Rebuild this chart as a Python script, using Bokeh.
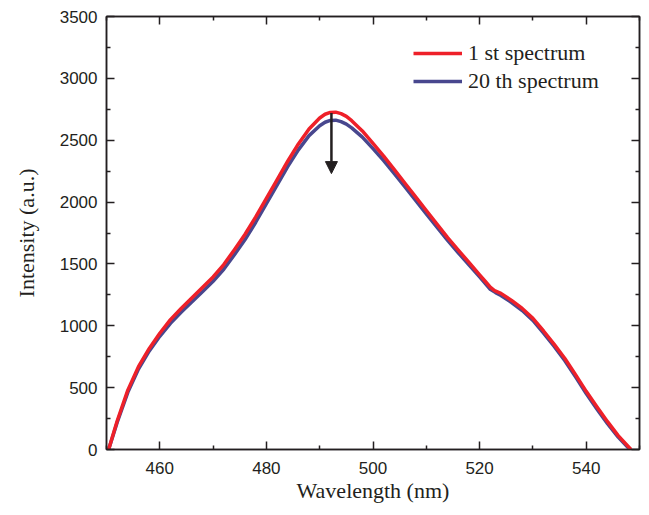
from bokeh.plotting import figure
from bokeh.models import (FixedTicker, LinearAxis, Range1d, Legend, LegendItem,
                          Arrow, NormalHead)
from bokeh.embed import file_html
from bokeh.resources import INLINE

# ---- data ----
wl_red = [450.4, 452, 454, 456, 458, 460, 462, 464, 466, 468, 470, 472, 474, 476, 478,
          480, 482, 484, 486, 488, 490, 491, 492, 493, 494, 495, 496, 498, 500, 502,
          504, 506, 508, 510, 512, 514, 516, 518, 520, 521, 522, 522.8, 524, 526, 528,
          530, 532, 534, 536, 538, 540, 542, 544, 546, 548.4]
int_red = [0, 230, 480, 670, 815, 940, 1050, 1140, 1225, 1310, 1395, 1495, 1615, 1740, 1880,
           2030, 2180, 2330, 2470, 2590, 2680, 2710, 2725, 2727, 2715, 2693, 2658, 2575, 2475, 2372,
           2262, 2152, 2042, 1932, 1822, 1712, 1612, 1512, 1412, 1362, 1312, 1285, 1262, 1205, 1140,
           1060, 958, 850, 735, 605, 470, 345, 225, 112, 0]

wl_blue = [450.4, 452, 454, 456, 458, 460, 462, 464, 466, 468, 470, 472, 474, 476, 478,
           480, 482, 484, 486, 488, 490, 491, 492, 493, 494, 495, 496, 498, 500, 502,
           504, 506, 508, 510, 512, 514, 516, 518, 520, 521, 522, 523, 524, 526, 528,
           530, 532, 534, 536, 538, 540, 542, 544, 546, 548.2]
int_blue = [0, 218, 462, 650, 795, 915, 1020, 1110, 1192, 1275, 1360, 1457, 1575, 1697, 1837,
            1987, 2137, 2287, 2422, 2537, 2617, 2645, 2660, 2662, 2650, 2630, 2600, 2525, 2432, 2335,
            2230, 2122, 2013, 1905, 1797, 1690, 1590, 1492, 1395, 1345, 1295, 1268, 1245, 1188, 1123,
            1043, 941, 833, 718, 588, 453, 328, 208, 100, 0]

series_labels = ["1 st spectrum", "20 th spectrum"]
x_major = [460, 480, 500, 520, 540]
x_minor = [450, 470, 490, 510, 530, 550]
y_major = [0, 500, 1000, 1500, 2000, 2500, 3000, 3500]
y_minor = [250, 750, 1250, 1750, 2250, 2750, 3250]

arrow_x = 492.2
arrow_y_start = 2720
arrow_y_end = 2230

RED = "#EE2029"
BLUE = "#48478E"
INK = "#231F20"

p = figure(width=648, height=514, output_backend="svg", toolbar_location=None,
           x_range=Range1d(450, 550), y_range=Range1d(0, 3500),
           min_border_left=106, min_border_right=9, min_border_top=16, min_border_bottom=65)
p.grid.visible = False
p.outline_line_color = INK
p.outline_line_width = 1.5
p.background_fill_color = "white"
p.border_fill_color = "white"

rb = p.line(wl_blue, int_blue, line_color=BLUE, line_width=3.5, line_join="round")
rr = p.line(wl_red, int_red, line_color=RED, line_width=3.5, line_join="round")


def style_axis(ax, ticks, minor, show_labels):
    ax.ticker = FixedTicker(ticks=ticks, minor_ticks=minor)
    ax.axis_line_color = INK
    ax.axis_line_width = 1.5
    ax.major_tick_line_color = INK
    ax.minor_tick_line_color = INK
    ax.major_tick_line_width = 1.5
    ax.minor_tick_line_width = 1.5
    ax.major_tick_in = 8
    ax.major_tick_out = 0
    ax.minor_tick_in = 4
    ax.minor_tick_out = 0
    if show_labels:
        ax.major_label_text_font = "Liberation Sans"
        ax.major_label_text_font_size = "17px"
        ax.major_label_text_color = INK
        ax.axis_label_text_font = "Liberation Serif"
        ax.axis_label_text_font_size = "22px"
        ax.axis_label_text_font_style = "normal"
        ax.axis_label_text_color = INK
    else:
        ax.major_label_text_font_size = "1px"
        ax.major_label_text_alpha = 0
        ax.major_label_standoff = 0


xa = p.xaxis[0]
ya = p.yaxis[0]
style_axis(xa, x_major, x_minor, True)
style_axis(ya, y_major, y_minor, True)
xa.axis_label = "Wavelength (nm)"
ya.axis_label = "Intensity (a.u.)"
xa.major_label_standoff = 12
xa.axis_label_standoff = 1
ya.major_label_standoff = 9
ya.axis_label_standoff = 18

top = LinearAxis()
right = LinearAxis()
style_axis(top, x_major, x_minor, False)
style_axis(right, y_major, y_minor, False)
p.add_layout(top, "above")
p.add_layout(right, "right")

p.add_layout(Arrow(end=NormalHead(size=12, fill_color=INK, line_color=INK),
                   x_start=arrow_x, y_start=arrow_y_start,
                   x_end=arrow_x, y_end=arrow_y_end,
                   line_color=INK, line_width=2.5))

legend = Legend(items=[LegendItem(label=series_labels[0], renderers=[rr]),
                       LegendItem(label=series_labels[1], renderers=[rb])],
                location=(307, 354), glyph_width=49, glyph_height=28,
                label_standoff=6, padding=0, margin=0, spacing=0,
                border_line_color=None, background_fill_alpha=0,
                label_text_font="Liberation Serif", label_text_font_size="22px",
                label_text_color=INK, label_height=28)
p.add_layout(legend, "center")

open("out.html", "w").write(file_html(p, INLINE))
